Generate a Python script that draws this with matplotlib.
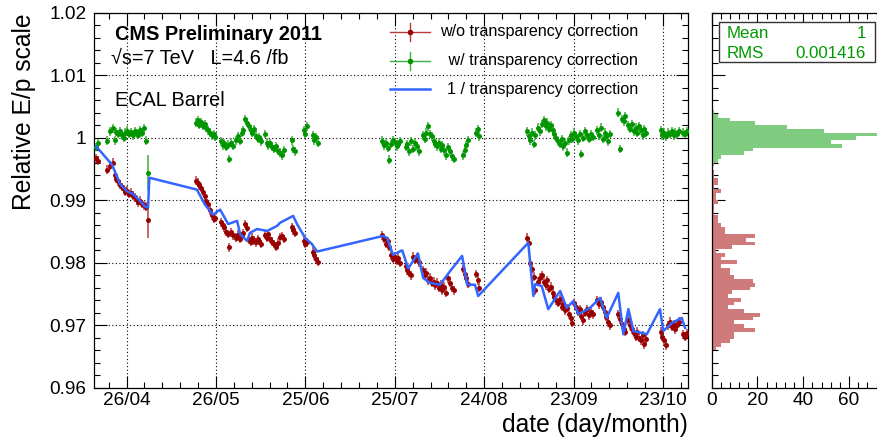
import numpy as np
import matplotlib
matplotlib.use("Agg")
import matplotlib.pyplot as plt
from matplotlib.ticker import MultipleLocator, FixedLocator, FuncFormatter, NullFormatter
from matplotlib.patches import Rectangle
from matplotlib.lines import Line2D

plt.rcParams['font.family'] = ['Liberation Sans', 'DejaVu Sans']

# ---------------- data (day of year 2011) ----------------
days_run1 = [105.6, 106.4, 109.5, 110.6, 111.3, 112.0, 112.6, 113.2, 113.8, 114.4,
             115.0, 115.6, 116.3, 116.9, 117.5, 118.1, 118.8, 119.4, 120.0, 120.6,
             121.2, 121.8, 122.4, 123.2]
red_run1 = [0.9967, 0.9963, 0.9949, 0.9955, 0.9960, 0.9941, 0.9934, 0.9930, 0.9925, 0.9921,
            0.9918, 0.9913, 0.9915, 0.9910, 0.9912, 0.9907, 0.9905, 0.9900, 0.9897, 0.9899,
            0.9894, 0.9892, 0.9890, 0.9868]
green_run1 = [0.9985, 0.9991, 0.9995, 1.0010, 1.0015, 0.9996, 1.0009, 1.0006, 1.0010, 1.0004,
              1.0000, 1.0008, 1.0011, 1.0006, 1.0009, 1.0004, 1.0010, 1.0007, 1.0005, 1.0012,
              1.0008, 1.0015, 0.9995, 0.9944]

days_run2 = [139.2, 139.8, 140.4, 141.0, 141.6, 142.2, 142.8, 143.4, 144.0, 144.6,
             145.2, 145.8, 147.6, 148.2, 148.8, 149.4, 150.0, 150.5, 151.0, 151.6,
             152.8, 153.4, 154.0, 154.6, 155.2, 155.8, 156.4, 157.0, 157.6, 158.2,
             158.8, 159.4, 160.0, 160.6, 161.2, 162.4, 163.0, 163.6, 164.2, 164.8,
             165.6, 166.2, 166.8, 167.6, 168.2, 168.8, 171.4, 172.0, 172.6, 175.4,
             176.0, 176.6, 178.4, 179.0, 179.6, 180.2]
red_run2 = [0.9931, 0.9928, 0.9924, 0.9920, 0.9913, 0.9906, 0.9899, 0.9894, 0.9884, 0.9876,
            0.9870, 0.9872, 0.9865, 0.9860, 0.9857, 0.9850, 0.9846, 0.9825, 0.9849, 0.9844,
            0.9840, 0.9845, 0.9838, 0.9843, 0.9847, 0.9862, 0.9856, 0.9837, 0.9834, 0.9840,
            0.9836, 0.9833, 0.9838, 0.9835, 0.9830, 0.9845, 0.9840, 0.9846, 0.9838, 0.9834,
            0.9830, 0.9826, 0.9832, 0.9841, 0.9843, 0.9838, 0.9857, 0.9852, 0.9848, 0.9835,
            0.9830, 0.9833, 0.9818, 0.9812, 0.9806, 0.9802]
green_run2 = [1.0024, 1.0028, 1.0021, 1.0025, 1.0019, 1.0022, 1.0016, 1.0012, 1.0008, 1.0004,
              1.0006, 1.0001, 0.9994, 0.9988, 0.9991, 0.9985, 0.9989, 0.9966, 0.9992, 0.9987,
              0.9996, 1.0002, 0.9995, 1.0008, 1.0012, 1.0030, 1.0024, 1.0018, 1.0012, 1.0008,
              1.0014, 1.0003, 0.9998, 1.0001, 0.9994, 1.0006, 0.9992, 0.9988, 0.9991, 0.9985,
              0.9982, 0.9986, 0.9979, 0.9976, 0.9972, 0.9980, 0.9996, 0.9982, 0.9978, 1.0012,
              1.0006, 1.0018, 1.0004, 0.9996, 1.0001, 0.9992]

days_run3 = [201.8, 202.4, 203.0, 203.6, 204.2, 204.8, 205.4, 206.0, 206.6, 207.2,
             207.8, 209.6, 210.2, 210.8, 211.4, 212.2, 212.8, 213.4, 214.0, 215.4,
             216.0, 216.6, 217.2, 217.8, 218.4, 219.0, 219.6, 220.2, 220.8, 221.4,
             222.0, 222.6, 223.2, 224.0, 224.6, 225.2, 225.8, 228.8, 229.4, 230.0,
             230.6, 233.2, 233.8, 234.4]
red_run3 = [0.9844, 0.9838, 0.9830, 0.9835, 0.9826, 0.9812, 0.9806, 0.9810, 0.9803, 0.9808,
            0.9800, 0.9795, 0.9788, 0.9784, 0.9780, 0.9810, 0.9805, 0.9808, 0.9801, 0.9788,
            0.9780, 0.9784, 0.9772, 0.9776, 0.9768, 0.9770, 0.9764, 0.9768, 0.9760, 0.9765,
            0.9756, 0.9762, 0.9752, 0.9775, 0.9768, 0.9760, 0.9756, 0.9790, 0.9782, 0.9775,
            0.9766, 0.9782, 0.9772, 0.9760]
green_run3 = [0.9995, 0.9988, 0.9992, 0.9984, 0.9965, 0.9990, 0.9996, 0.9993, 0.9986, 0.9990,
              0.9994, 0.9985, 0.9990, 0.9978, 0.9994, 0.9982, 0.9992, 0.9986, 0.9978, 1.0004,
              0.9998, 1.0008, 1.0018, 1.0006, 1.0002, 0.9995, 0.9990, 0.9986, 0.9992, 0.9982,
              0.9988, 0.9980, 0.9972, 0.9985, 0.9978, 0.9970, 0.9966, 0.9972, 0.9980, 0.9988,
              0.9996, 1.0008, 1.0014, 1.0002]

days_run4 = [250.4, 250.9, 251.4, 252.0, 252.6, 253.2, 254.0, 254.6, 255.4, 256.0,
             256.6, 257.2, 257.8, 258.4, 259.0, 259.6, 260.2, 260.8, 261.4, 262.0,
             262.6, 263.2, 263.8, 264.4, 265.0, 265.6, 266.2, 266.8, 267.4, 268.0,
             268.6, 269.2, 270.0, 270.6, 271.2, 271.8, 272.4, 274.0, 274.6, 275.2,
             275.8, 276.4, 277.0, 277.6, 278.2, 281.0, 281.6, 282.2, 282.8, 283.4,
             284.4, 285.0, 285.6, 286.2, 286.8, 287.4, 288.0, 288.6, 289.2, 289.8,
             290.4, 295.2, 295.8, 296.4, 297.0, 297.8, 298.4, 299.0, 299.6, 300.2,
             300.8, 301.4, 302.8, 303.4, 304.0]
red_run4 = [0.9840, 0.9832, 0.9800, 0.9790, 0.9778, 0.9756, 0.9770, 0.9776, 0.9780, 0.9770,
            0.9764, 0.9772, 0.9758, 0.9762, 0.9752, 0.9745, 0.9740, 0.9736, 0.9742, 0.9730,
            0.9735, 0.9724, 0.9728, 0.9718, 0.9712, 0.9704, 0.9736, 0.9730, 0.9722, 0.9726,
            0.9715, 0.9708, 0.9720, 0.9726, 0.9716, 0.9722, 0.9718, 0.9740, 0.9734, 0.9738,
            0.9730, 0.9722, 0.9714, 0.9705, 0.9700, 0.9718, 0.9710, 0.9702, 0.9695, 0.9690,
            0.9708, 0.9700, 0.9694, 0.9688, 0.9682, 0.9690, 0.9680, 0.9676, 0.9684, 0.9670,
            0.9678, 0.9690, 0.9682, 0.9676, 0.9668, 0.9700, 0.9706, 0.9698, 0.9702, 0.9694,
            0.9700, 0.9706, 0.9686, 0.9682, 0.9688]
green_run4 = [1.0010, 1.0002, 0.9996, 1.0008, 0.9990, 1.0004, 1.0016, 1.0010, 1.0022, 1.0028,
              1.0018, 1.0024, 1.0014, 1.0020, 1.0012, 1.0006, 1.0000, 0.9994, 0.9990, 0.9998,
              0.9986, 0.9992, 0.9976, 0.9996, 1.0004, 0.9998, 1.0008, 1.0002, 0.9996, 1.0006,
              0.9974, 1.0000, 1.0010, 1.0004, 0.9998, 1.0006, 1.0001, 1.0012, 1.0004, 1.0016,
              0.9998, 1.0008, 1.0002, 0.9994, 1.0006, 1.0040, 0.9982, 1.0030, 1.0026, 1.0034,
              1.0020, 1.0014, 1.0022, 1.0010, 1.0016, 1.0008, 1.0018, 1.0012, 1.0004, 1.0014,
              1.0008, 1.0012, 1.0004, 1.0008, 1.0002, 1.0008, 1.0006, 1.0010, 1.0004, 1.0008,
              1.0006, 1.0010, 1.0008, 1.0006, 1.0010]

point_err = 0.0007
big_err_day = 123.2
big_err = 0.0028

blue_days = [105.8, 111.1, 113.8, 116.2, 118.2, 120.5, 122.2, 123.2, 123.65,
             139.6, 142.3, 145.0, 147.4, 150.1, 153.1, 154.1, 156.4, 157.4, 159.8,
             163.2, 166.5, 167.5, 171.9, 173.2, 175.9, 178.2, 179.9,
             202.1, 203.4, 205.4, 208.5, 210.5, 213.8, 215.5, 217.8, 221.2, 224.6,
             228.6, 230.3, 232.9, 234.0,
             250.8, 251.6, 252.5, 253.1, 255.3, 257.5, 261.5, 263.7, 265.9, 267.6,
             271.5, 274.9, 277.1, 281.0, 282.7, 284.4, 286.1, 290.6, 295.0, 296.1,
             299.0, 302.3, 303.4]
blue_vals = [0.9986, 0.9957, 0.9926, 0.9914, 0.9910, 0.9899, 0.9890, 0.9888, 0.9936,
             0.9917, 0.9893, 0.9877, 0.9885, 0.9862, 0.9867, 0.9846, 0.9835, 0.9848, 0.9854,
             0.9851, 0.9859, 0.9864, 0.9875, 0.9862, 0.9840, 0.9830, 0.9818,
             0.9843, 0.9840, 0.9813, 0.9820, 0.9791, 0.9815, 0.9776, 0.9768, 0.9765, 0.9787,
             0.9811, 0.9765, 0.9765, 0.9747,
             0.9832, 0.9792, 0.9747, 0.9766, 0.9763, 0.9726, 0.9755, 0.9728, 0.9739, 0.9718,
             0.9728, 0.9744, 0.9712, 0.9752, 0.9686, 0.9726, 0.9691, 0.9686, 0.9726, 0.9691,
             0.9704, 0.9712, 0.9696]

tick_days = [116, 146, 176, 206, 236, 266, 296]
tick_labels = ['26/04', '26/05', '25/06', '25/07', '24/08', '23/09', '23/10']

# projections (histograms), bin width 0.0006 starting at the given lower edge
hist_bin_width = 0.0006
red_hist_start = 0.966
red_hist = [2, 4, 8, 10, 10, 19, 14, 10, 18, 21,
            14, 7, 10, 13, 7, 9, 17, 19, 18, 10,
            8, 8, 4, 11, 4, 6, 2, 9, 19, 15,
            19, 6, 6, 4, 3, 3, 1, 1, 1, 3,
            2, 2, 4, 1, 3, 3, 1, 1, 0, 1, 1]
green_hist_start = 0.996
green_hist = [3, 4, 14, 18, 57, 52, 63, 75, 49, 33, 19, 8, 3, 1]

# ---------------- figure ----------------
W, H = 877, 437
fig = plt.figure(figsize=(W / 100, H / 100), dpi=100)

def fx(px):
    return px / W

def fy(py):
    return 1 - py / H

ax_l, ax_r, ax_t, ax_b = 93.5, 688, 12.5, 388
ax = fig.add_axes([fx(ax_l), fy(ax_b), (ax_r - ax_l) / W, (ax_b - ax_t) / H])
axh = fig.add_axes([fx(711.5), fy(ax_b), (W - 711.5) / W, (ax_b - ax_t) / H])

days = np.array(days_run1 + days_run2 + days_run3 + days_run4)
red = np.array(red_run1 + red_run2 + red_run3 + red_run4)
green = np.array(green_run1 + green_run2 + green_run3 + green_run4)
err = np.full(days.shape, point_err)
err[np.isclose(days, big_err_day)] = big_err

red_c = '#990000'
red_e = '#b43c3c'
green_c = '#009600'
green_e = '#3cae3c'
blue_c = '#3366ff'

ax.errorbar(days, red, yerr=err, fmt='o', ms=3.6, mew=0, color=red_c, ecolor=red_e,
            elinewidth=1.1, capsize=2.0, capthick=1.1, zorder=3)
ax.errorbar(days, green, yerr=err, fmt='o', ms=3.6, mew=0, color=green_c, ecolor=green_e,
            elinewidth=1.1, capsize=2.0, capthick=1.1, zorder=3)
ax.plot(blue_days, blue_vals, color=blue_c, lw=1.8, zorder=4)

ax.set_xlim(104.9, 304.4)
ax.set_ylim(0.96, 1.02)
ax.xaxis.set_major_locator(FixedLocator(tick_days))
ax.set_xticklabels(tick_labels)
ax.xaxis.set_minor_locator(FixedLocator(np.arange(110, 305, 6)))
ax.yaxis.set_major_locator(MultipleLocator(0.01))
ax.yaxis.set_minor_locator(MultipleLocator(0.002))
ax.yaxis.set_major_formatter(FuncFormatter(lambda v, p: '%g' % round(v, 4)))
ax.grid(True, which='major', color='black', linestyle=(0, (1, 2.2)), lw=0.8, zorder=1)

for a in (ax, axh):
    a.tick_params(which='both', direction='in', top=True, labelsize=13.7, width=0.8)
    a.tick_params(which='major', length=9)
    a.tick_params(which='minor', length=4.5)
    for s in a.spines.values():
        s.set_linewidth(0.9)
ax.tick_params(which='both', right=True)
ax.tick_params(axis='y', pad=5)
ax.tick_params(axis='x', pad=3)

# histogram panel
axh.barh(red_hist_start + hist_bin_width * np.arange(len(red_hist)), red_hist,
         height=hist_bin_width, align='edge', color='#cf7b7b', lw=0, zorder=2)
axh.barh(green_hist_start + hist_bin_width * np.arange(len(green_hist)), green_hist,
         height=hist_bin_width, align='edge', color='#7fcb7f', lw=0, zorder=2)
axh.set_ylim(0.96, 1.02)
axh.set_xlim(0, (W - 711.5) / 2.292)
axh.xaxis.set_major_locator(MultipleLocator(20))
axh.xaxis.set_minor_locator(MultipleLocator(4))
axh.yaxis.set_major_locator(MultipleLocator(0.01))
axh.yaxis.set_minor_locator(MultipleLocator(0.002))
axh.yaxis.set_major_formatter(NullFormatter())
axh.spines['right'].set_visible(False)
axh.tick_params(axis='x', pad=3)

# axis titles
fig.text(fx(24), fy(13), 'Relative E/p scale', rotation=90, ha='center', va='top', fontsize=17.7)
fig.text(fx(688), fy(425), 'date (day/month)', ha='right', va='center', fontsize=17.7)

# header texts
fig.text(fx(115), fy(39.5), 'CMS Preliminary 2011', fontsize=14.3, fontweight='bold', va='baseline')
fig.text(fx(111), fy(64), '\u221as=7 TeV   L=4.6 /fb', fontsize=14.3, va='baseline')
fig.text(fx(115), fy(105.5), 'ECAL Barrel', fontsize=14.3, va='baseline')

# legend (manual)
leg_rows = [31.7, 61.0, 89.3]
leg_texts = ['w/o transparency correction', ' w/ transparency correction', '1 / transparency correction']
for i, (yy, txt) in enumerate(zip(leg_rows, leg_texts)):
    if i < 2:
        c, ce = (red_c, red_e) if i == 0 else (green_c, green_e)
        fig.add_artist(Line2D([fx(390), fx(430)], [fy(yy), fy(yy)], color=ce, lw=1.0))
        fig.add_artist(Line2D([fx(410), fx(410)], [fy(yy - 9), fy(yy + 9)], color=ce, lw=1.0))
        fig.add_artist(Line2D([fx(410)], [fy(yy)], marker='o', ms=4.0, mew=0, color=c))
    else:
        fig.add_artist(Line2D([fx(390), fx(430)], [fy(yy), fy(yy)], color=blue_c, lw=1.8))
    fig.text(fx(638), fy(yy), txt, ha='right', va='center', fontsize=11.6)

# stats box
fig.add_artist(Rectangle((fx(719), fy(62)), (875 - 719) / W, 40 / H, transform=fig.transFigure,
                         facecolor='white', edgecolor='#333333', lw=1.0, zorder=5))
stat_c = '#009a00'
fig.text(fx(727), fy(33), 'Mean', color=stat_c, fontsize=12.2, va='center', zorder=6)
fig.text(fx(866), fy(33), '1', color=stat_c, fontsize=12.2, va='center', ha='right', zorder=6)
fig.text(fx(727), fy(53), 'RMS', color=stat_c, fontsize=12.2, va='center', zorder=6)
fig.text(fx(866), fy(53), '0.001416', color=stat_c, fontsize=12.2, va='center', ha='right', zorder=6)

fig.savefig('out.png', dpi=100)
